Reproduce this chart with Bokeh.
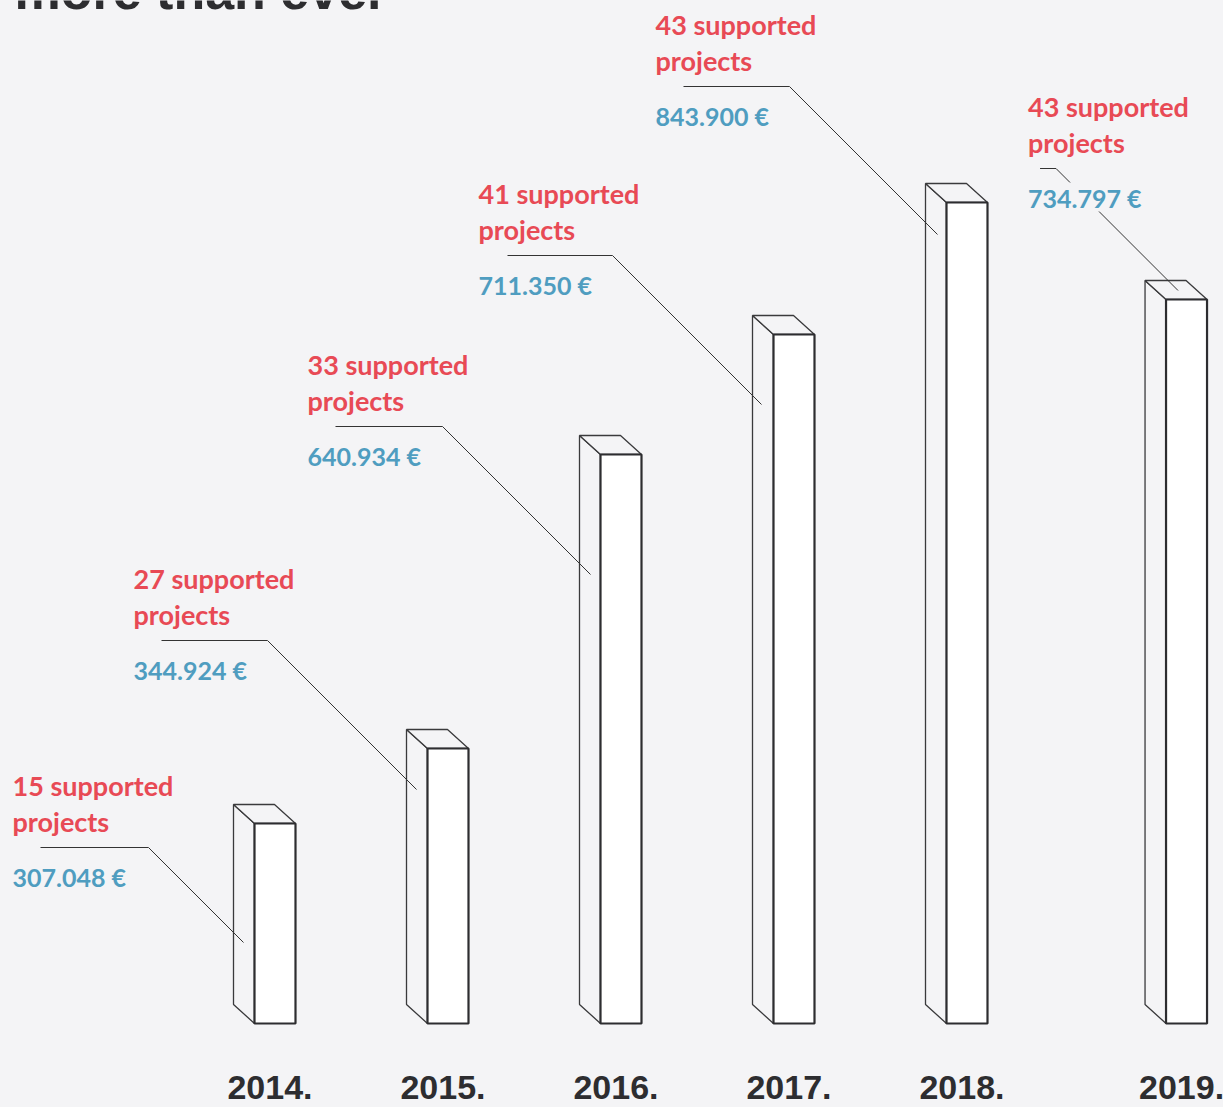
import numpy as np
from bokeh.plotting import figure
from bokeh.models import Range1d, GlobalInlineStyleSheet
from bokeh.core.properties import value
from bokeh.embed import file_html
from bokeh.resources import INLINE

# ---------------- data ----------------
years = ["2014.", "2015.", "2016.", "2017.", "2018.", "2019."]
projects = [15, 27, 33, 41, 43, 43]
amounts = ["307.048 €", "344.924 €", "640.934 €", "711.350 €", "843.900 €", "734.797 €"]
bar_height = [200, 275, 569, 689, 821, 724]   # drawn bar heights
title = "more than ever"

# ---------------- style / layout ----------------
W, H = 1223, 1107
BG = "#f4f4f6"
RED = "#e84a55"
BLUE = "#4f9dc0"
DARK = "#2d2d30"
PX = 173.0                 # pixels per slot
GAP_LAST = 0.269           # extra gap before the last bar (slots)
HALF = 20.5 / PX           # half front width
DX, DY = -21 / PX, 19      # depth offset (left / up)
x0 = -274.5 / PX
y0 = -84

slot = np.arange(len(years), dtype=float)
slot[-1] += GAP_LAST

# label placement (px relative to bar front-left / bar top)
lab_dx = [-242, -294, -293, -295, -291, -138]
lab_dy = [38, 170, 90, 141, 178, 193]
lead_h0 = [28, 28, 28, 29, 28, 12]
lead_h1 = [136, 134, 135, 134, 134, 28]
lead_end = [-11, -11, -10, -12, -9, 12]
lead_gap = [None, None, None, None, None, (14, 43)]  # break around amount text

p = figure(width=W, height=H, output_backend="svg", toolbar_location=None,
           x_range=Range1d(x0, x0 + W / PX), y_range=Range1d(y0, y0 + H),
           min_border=0, background_fill_color=BG, border_fill_color=BG,
           outline_line_color=None)
p.axis.visible = False
p.grid.visible = False
p.stylesheets = [GlobalInlineStyleSheet(css="html, body {margin:0 !important; padding:0; background:%s; overflow:hidden;}" % BG)]

# bars
side_xs, side_ys, top_xs, top_ys = [], [], [], []
for s, h in zip(slot, bar_height):
    xl, xr = s - HALF, s + HALF
    side_xs.append([xl, xl + DX, xl + DX, xl])
    side_ys.append([0, DY, h + DY, h])
    top_xs.append([xl, xl + DX, xr + DX, xr])
    top_ys.append([h, h + DY, h + DY, h])
p.patches(side_xs, side_ys, fill_color=BG, line_color="#3a3a3c", line_width=1.3)
p.patches(top_xs, top_ys, fill_color=BG, line_color="#3a3a3c", line_width=1.3)

# labels + leaders
lx, ly1, ly2, ly3, t1, t2 = [], [], [], [], [], []
seg_x, seg_y = [], []
for i, (s, h) in enumerate(zip(slot, bar_height)):
    fl = s - HALF
    lab_x = fl + lab_dx[i] / PX
    y1 = h + lab_dy[i]
    lx.append(lab_x)
    ly1.append(y1)
    ly2.append(y1 - 36)
    ly3.append(y1 - 91)
    t1.append(f"{projects[i]} supported")
    t2.append("projects")
    ly = y1 - 62
    hx0 = lab_x + lead_h0[i] / PX
    hx1 = lab_x + lead_h1[i] / PX
    ex = fl + lead_end[i] / PX
    run = (ex - hx1) * PX
    ey = ly - run
    seg_x.append([hx0, hx1])
    seg_y.append([ly, ly])
    if lead_gap[i] is None:
        seg_x.append([hx1, ex])
        seg_y.append([ly, ey])
    else:
        a, b = lead_gap[i]
        seg_x.append([hx1, hx1 + a / PX])
        seg_y.append([ly, ly - a])
        seg_x.append([hx1 + b / PX, ex])
        seg_y.append([ly - b, ey])
p.multi_line(seg_x, seg_y, line_color="#333333", line_width=1.0)

# front faces
p.quad(left=slot - HALF, right=slot + HALF, bottom=0, top=bar_height,
       fill_color="white", line_color=DARK, line_width=2.2)

lab_font = value("Lato")
p.text(lx, ly1, text=t1, text_color=RED, text_font=lab_font, text_font_style="bold",
       text_font_size="27px", text_baseline="middle", text_align="left")
p.text(lx, ly2, text=t2, text_color=RED, text_font=lab_font, text_font_style="bold",
       text_font_size="27px", text_baseline="middle", text_align="left")
p.text(lx, ly3, text=amounts, text_color=BLUE, text_font=lab_font, text_font_style="bold",
       text_font_size="25px", text_baseline="middle", text_align="left")

# year labels
p.text(slot - 5 / PX, [-64] * len(years), text=years, text_color=DARK,
       text_font=value("Liberation Sans"), text_font_style="bold", text_font_size="34px",
       text_baseline="middle", text_align="center")

# title (mostly cut off at top)
p.text([x0 + 14 / PX], [y0 + H + 10], text=[title], text_color=DARK,
       text_font=value("Liberation Sans"), text_font_style="bold", text_font_size="52px",
       text_baseline="alphabetic", text_align="left")

open("out.html", "w").write(file_html(p, INLINE))
